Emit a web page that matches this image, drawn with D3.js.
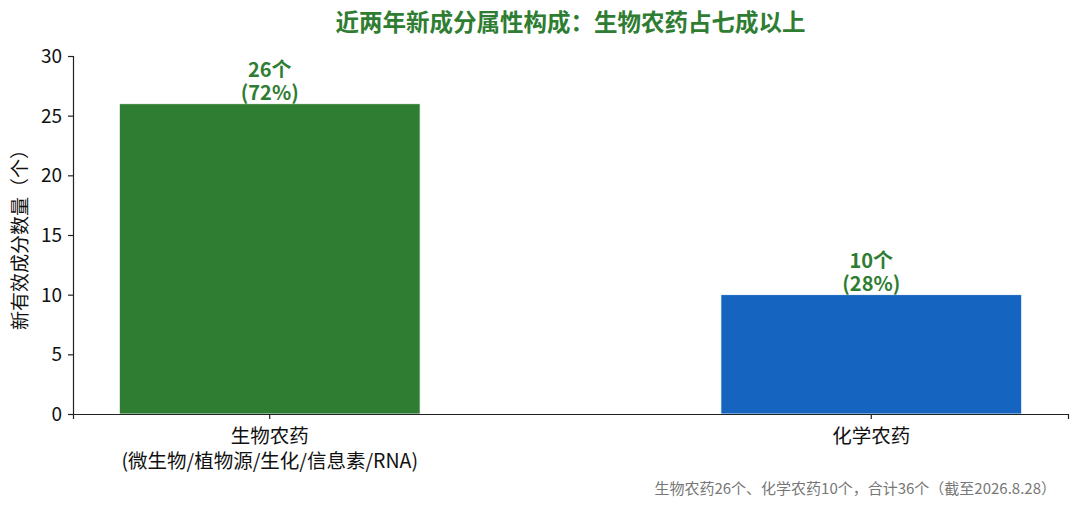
<!DOCTYPE html>
<html>
<head>
  <meta charset="utf-8">
  <script src="https://d3js.org/d3.v7.min.js"></script>
  <style>
    body { margin: 0; background: #fff; }
    svg text { font-family: "Noto Sans CJK SC", "Noto Sans", sans-serif; }
    .axis path, .axis line { stroke: #222; stroke-width: 1.2; }
    .axis text { font-size: 19px; fill: #111; }
  </style>
</head>
<body>
  <svg class="chart"></svg>
  <script>
    var categories = ['生物农药\n(微生物/植物源/生化/信息素/RNA)', '化学农药'];
    var counts = [26, 10];
    var shares = ['72%', '28%'];
    var colors = ['#2e7d32', '#1565c0'];
    var yTicks = [0, 5, 10, 15, 20, 25, 30];

    var W = 1080, H = 510;
    var margin = { top: 56, right: 12, bottom: 96, left: 73 };
    var width = W - margin.left - margin.right;
    var height = H - margin.top - margin.bottom;

    var svg = d3.select('.chart').attr('width', W).attr('height', H);
    var chart = svg.append('g')
      .attr('transform', 'translate(' + margin.left + ',' + margin.top + ')');

    var xScale = d3.scaleBand()
      .domain(categories)
      .range([0, width])
      .paddingInner(0.5)
      .paddingOuter(0.077);

    var yScale = d3.scaleLinear()
      .domain([0, 30])
      .range([height, 0]);

    chart.selectAll('.bar')
      .data(categories)
      .enter()
      .append('rect')
      .attr('class', 'bar')
      .attr('x', function (d) { return xScale(d); })
      .attr('y', function (d, i) { return yScale(counts[i]); })
      .attr('width', xScale.bandwidth())
      .attr('height', function (d, i) { return height - yScale(counts[i]); })
      .attr('fill', function (d, i) { return colors[i]; })
      .attr('stroke', '#fff')
      .attr('stroke-width', 0.8);

    // two-line value label above each bar
    chart.selectAll('.val-count')
      .data(categories)
      .enter()
      .append('text')
      .attr('class', 'val-count')
      .attr('x', function (d) { return xScale(d) + xScale.bandwidth() / 2; })
      .attr('y', function (d, i) { return yScale(counts[i]) - 27; })
      .attr('text-anchor', 'middle')
      .style('font-size', '20px')
      .style('font-weight', 'bold')
      .style('fill', '#2e7d32')
      .text(function (d, i) { return counts[i] + '个'; });

    chart.selectAll('.val-share')
      .data(categories)
      .enter()
      .append('text')
      .attr('class', 'val-share')
      .attr('x', function (d) { return xScale(d) + xScale.bandwidth() / 2; })
      .attr('y', function (d, i) { return yScale(counts[i]) - 4; })
      .attr('text-anchor', 'middle')
      .style('font-size', '20px')
      .style('font-weight', 'bold')
      .style('fill', '#2e7d32')
      .text(function (d, i) { return '(' + shares[i] + ')'; });

    var xAxis = chart.append('g')
      .attr('class', 'x axis')
      .attr('transform', 'translate(0,' + height + ')')
      .call(d3.axisBottom(xScale).tickSizeOuter(0).tickSize(5).tickFormat(''));
    xAxis.selectAll('.tick').each(function (d) {
      var tick = d3.select(this);
      d.split('\n').forEach(function (line, j) {
        tick.append('text')
          .attr('text-anchor', 'middle')
          .attr('x', 0)
          .attr('y', 29 + j * 25)
          .style('font-size', '19.5px')
          .style('fill', '#111')
          .text(line);
      });
    });

    chart.append('g')
      .attr('class', 'y axis')
      .call(d3.axisLeft(yScale).tickValues(yTicks).tickSizeOuter(0).tickSize(5).tickPadding(6));

    chart.select('.y.axis').selectAll('text').attr('dy', '0.35em');

    svg.append('text')
      .attr('transform', 'translate(27,' + (margin.top + height / 2) + ') rotate(-90)')
      .attr('text-anchor', 'middle')
      .style('font-size', '19px')
      .style('fill', '#111')
      .text('新有效成分数量（个）');

    svg.append('text')
      .attr('x', margin.left + width / 2)
      .attr('y', 31)
      .attr('text-anchor', 'middle')
      .style('font-size', '23.5px')
      .style('font-weight', 'bold')
      .style('fill', '#2e7d32')
      .text('近两年新成分属性构成：生物农药占七成以上');

    svg.append('text')
      .attr('x', 1056)
      .attr('y', 494)
      .attr('text-anchor', 'end')
      .style('font-size', '15px')
      .style('fill', '#777')
      .text('生物农药26个、化学农药10个，合计36个（截至2026.8.28）');
  </script>
</body>
</html>
